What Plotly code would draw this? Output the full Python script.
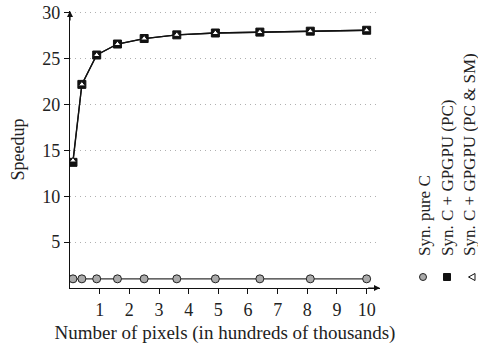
import plotly.graph_objects as go

pixels = [0.1, 0.4, 0.9, 1.6, 2.5, 3.6, 4.9, 6.4, 8.1, 10.0]
pure_c = [1.0, 1.0, 1.0, 1.0, 1.0, 1.0, 1.0, 1.0, 1.0, 1.0]
gpgpu_pc = [13.7, 22.2, 25.4, 26.6, 27.2, 27.6, 27.8, 27.9, 28.0, 28.1]
gpgpu_pc_sm = [13.9, 22.2, 25.4, 26.6, 27.2, 27.6, 27.8, 27.9, 28.0, 28.1]
series_names = ["Syn. pure C", "Syn. C + GPGPU (PC)", "Syn. C + GPGPU (PC & SM)"]
x_ticks = [1, 2, 3, 4, 5, 6, 7, 8, 9, 10]
y_ticks = [5, 10, 15, 20, 25, 30]

FONT = "Liberation Serif"
TXT = "#222222"
AX = "#111111"

fig = go.Figure()
fig.add_trace(go.Scatter(x=pixels, y=pure_c, mode="lines+markers", name=series_names[0],
                         line=dict(color="#333333", width=1.3),
                         marker=dict(symbol="circle", size=8, color="#aaaaaa",
                                     line=dict(color="#222222", width=1))))
fig.add_trace(go.Scatter(x=pixels, y=gpgpu_pc, mode="lines+markers", name=series_names[1],
                         line=dict(color="#111111", width=1.3),
                         marker=dict(symbol="square", size=8, color="#111111",
                                     line=dict(color="#111111", width=1))))
fig.add_trace(go.Scatter(x=pixels, y=gpgpu_pc_sm, mode="lines+markers", name=series_names[2],
                         line=dict(color="#111111", width=1.3),
                         marker=dict(symbol="triangle-up", size=6, color="white",
                                     line=dict(color="#111111", width=1))))

# axis arrowheads
fig.add_annotation(x=10.45, y=0, ax=10.0, ay=0, xref="x", yref="y", axref="x", ayref="y",
                   showarrow=True, arrowhead=2, arrowsize=1, arrowwidth=1.2,
                   arrowcolor=AX, text="")
fig.add_annotation(x=0, y=30.2, ax=0, ay=29.0, xref="x", yref="y", axref="x", ayref="y",
                   showarrow=True, arrowhead=2, arrowsize=1, arrowwidth=1.2,
                   arrowcolor=AX, text="")

# rotated legend (pixel positions converted to paper coords of the plot area)
PL, PW, PB, PH = 70, 310, 288, 277
def px_x(p):
    return (p - PL) / PW
def px_y(p):
    return (PB - p) / PH

leg_text_x = [424.5, 447.5, 469.5]
leg_mark_x = [423, 447, 472]
for i, name in enumerate(series_names):
    fig.add_annotation(x=px_x(leg_text_x[i]), y=px_y(258), xref="paper", yref="paper", text=name,
                       textangle=-90, showarrow=False, xanchor="center", yanchor="bottom",
                       font=dict(family=FONT, size=17, color=TXT))
my = px_y(277)
fig.add_shape(type="circle", xref="paper", yref="paper", xsizemode="pixel", ysizemode="pixel",
              xanchor=px_x(leg_mark_x[0]), yanchor=my, x0=-3.5, x1=3.5, y0=-3.5, y1=3.5,
              fillcolor="#aaaaaa", line=dict(color="#222222", width=1))
fig.add_shape(type="rect", xref="paper", yref="paper", xsizemode="pixel", ysizemode="pixel",
              xanchor=px_x(leg_mark_x[1]), yanchor=my, x0=-3.5, x1=3.5, y0=-3.5, y1=3.5,
              fillcolor="#111111", line=dict(color="#111111", width=1))
fig.add_shape(type="path", xref="paper", yref="paper", xsizemode="pixel", ysizemode="pixel",
              xanchor=px_x(leg_mark_x[2]), yanchor=my, path="M 3,-3.5 L 3,3.5 L -3.5,0 Z",
              fillcolor="white", line=dict(color="#111111", width=1))

fig.update_layout(
    template="none",
    width=478, height=347,
    margin=dict(l=70, r=98, t=11, b=59, autoexpand=False),
    paper_bgcolor="white", plot_bgcolor="white",
    showlegend=False,
    font=dict(family=FONT, size=18, color=TXT),
    xaxis=dict(range=[0, 10.45], tickvals=x_ticks, ticks="outside", ticklen=5,
               tickcolor=AX, showgrid=False, zeroline=False, showline=True,
               linecolor=AX, linewidth=1.2,
               automargin=False, tickfont=dict(family=FONT, size=18, color=TXT),
               title=dict(text="Number of pixels (in hundreds of thousands)",
                          font=dict(family=FONT, size=19, color=TXT), standoff=6)),
    yaxis=dict(range=[0, 30.2], tickvals=y_ticks, ticks="outside", ticklen=5,
               tickcolor=AX, showgrid=True, gridcolor="#b0b0b0", griddash="1px,4px",
               gridwidth=1, zeroline=False, showline=True, linecolor=AX, linewidth=1.2,
               automargin=False, tickfont=dict(family=FONT, size=18, color=TXT),
               title=dict(text="Speedup", font=dict(family=FONT, size=18, color=TXT), standoff=12)),
)

fig.write_html("out.html", config={"displayModeBar": False},
               post_script="document.body.style.margin='0px';document.body.style.overflow='hidden';")
